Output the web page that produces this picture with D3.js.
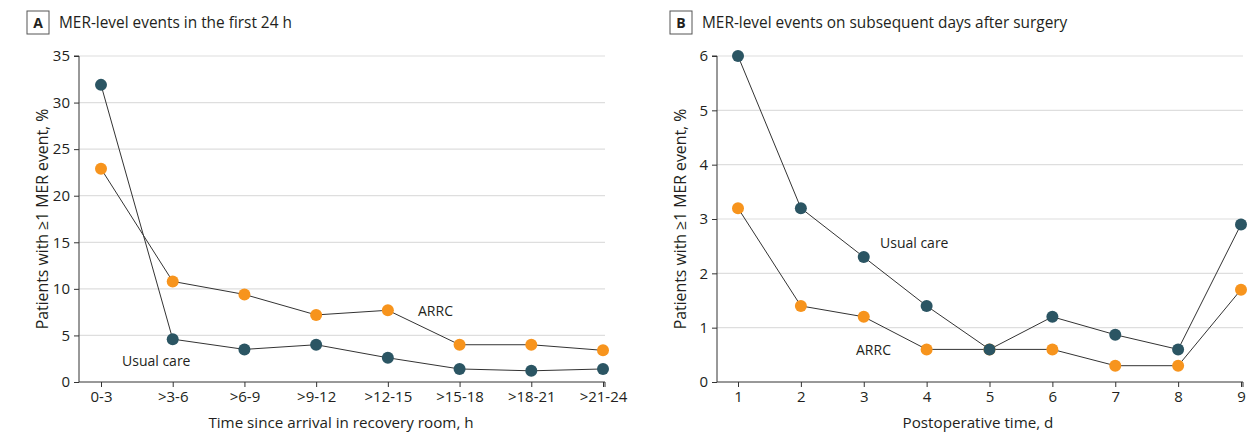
<!DOCTYPE html>
<html><head><meta charset="utf-8">
<script src="https://cdn.jsdelivr.net/npm/d3@7"></script>
<style>
body{margin:0;background:#fff;}
text{font-family:"Open Sans",sans-serif;fill:#231f20;}
</style></head>
<body>
<svg id="c" width="1254" height="433"></svg>
<script>
const catsA = ["0-3", ">3-6", ">6-9", ">9-12", ">12-15", ">15-18", ">18-21", ">21-24"];
const usualA = [31.9, 4.6, 3.5, 4.0, 2.6, 1.4, 1.2, 1.4];
const arrcA = [22.9, 10.8, 9.4, 7.2, 7.7, 4.0, 4.0, 3.4];
const ticksA = [0, 5, 10, 15, 20, 25, 30, 35];

const daysB = [1, 2, 3, 4, 5, 6, 7, 8, 9];
const usualB = [6.0, 3.2, 2.3, 1.4, 0.6, 1.2, 0.87, 0.6, 2.9];
const arrcB = [3.2, 1.4, 1.2, 0.6, 0.6, 0.6, 0.3, 0.3, 1.7];
const ticksB = [0, 1, 2, 3, 4, 5, 6];

const colUsual = "#2b5563", colArrc = "#f7941d";
const svg = d3.select("#c");

function panel(opt) {
  const g = svg.append("g");
  const y = d3.scaleLinear().domain([0, opt.ymax]).range([382, 56]);
  // gridlines
  g.selectAll(".grid").data(opt.yticks.filter(d => d > 0)).join("line")
    .attr("x1", opt.axisX).attr("x2", opt.gridEnd)
    .attr("y1", d => y(d)).attr("y2", d => y(d))
    .attr("stroke", "#dedede").attr("stroke-width", 1.2);
  // y axis
  const ya = g.append("g").attr("transform", `translate(${opt.axisX},0)`)
    .call(d3.axisLeft(y).tickValues(opt.yticks).tickSize(5).tickPadding(4).tickFormat(d3.format("d")));
  ya.select(".domain").attr("stroke", "#333").attr("d", `M-5,${y(opt.ymax)}H0V${y(0)}`);
  ya.selectAll(".tick line").attr("stroke", "#333");
  ya.selectAll("text").attr("font-size", 15).attr("font-family", "Open Sans").attr("fill", "#231f20");
  // x axis
  const xa = g.append("g").attr("transform", `translate(0,382)`)
    .call(opt.xAxis.tickSize(5).tickPadding(4));
  xa.select(".domain").attr("stroke", "#333").attr("d", `M${opt.axisX},0H${opt.gridEnd}V5`);
  xa.selectAll(".tick line").attr("stroke", "#333");
  xa.selectAll("text").attr("font-size", 15).attr("font-family", "Open Sans").attr("fill", "#231f20");
  // lines
  const line = d3.line().x((d, i) => opt.xv(i)).y(d => y(d));
  [opt.arrc, opt.usual].forEach(vals => {
    g.append("path").datum(vals).attr("d", line).attr("fill", "none")
      .attr("stroke", "#333").attr("stroke-width", 1);
  });
  [[opt.arrc, colArrc], [opt.usual, colUsual]].forEach(([vals, c]) => {
    g.selectAll(null).data(vals).join("circle")
      .attr("cx", (d, i) => opt.xv(i)).attr("cy", d => y(d)).attr("r", 6)
      .attr("fill", c);
  });
  // title
  g.append("rect").attr("x", opt.boxX).attr("y", 11).attr("width", 22).attr("height", 23)
    .attr("fill", "#fff").attr("stroke", "#555").attr("stroke-width", 1);
  g.append("text").attr("x", opt.boxX + 11).attr("y", 28).attr("text-anchor", "middle")
    .attr("font-size", 14).attr("font-weight", "bold").text(opt.letter);
  g.append("text").attr("x", opt.boxX + 32).attr("y", 28).attr("font-size", 15.4).text(opt.title);
  // axis titles
  g.append("text").attr("transform", `translate(${opt.axisX - 31},219) rotate(-90)`)
    .attr("text-anchor", "middle").attr("font-size", 15.8).text("Patients with \u22651 MER event, %");
  g.append("text").attr("x", opt.xTitleX).attr("y", 428).attr("text-anchor", "middle")
    .attr("font-size", 15.2).text(opt.xTitle);
  opt.labels.forEach(l => {
    g.append("text").attr("x", l[1]).attr("y", l[2]).attr("font-size", 14).text(l[0]);
  });
}

const xA = d3.scalePoint().domain(catsA).range([101, 603]);
panel({
  ymax: 35, yticks: ticksA, axisX: 79, gridEnd: 605,
  xAxis: d3.axisBottom(xA), xv: i => xA(catsA[i]),
  usual: usualA, arrc: arrcA, boxX: 27, letter: "A",
  title: "MER-level events in the first 24 h",
  xTitle: "Time since arrival in recovery room, h", xTitleX: 341,
  labels: [["Usual care", 122, 366], ["ARRC", 418, 316]]
});

const xB = d3.scaleLinear().domain([1, 9]).range([738, 1241]);
panel({
  ymax: 6, yticks: ticksB, axisX: 717, gridEnd: 1243,
  xAxis: d3.axisBottom(xB).tickValues(daysB).tickFormat(d3.format("d")), xv: i => xB(daysB[i]),
  usual: usualB, arrc: arrcB, boxX: 670, letter: "B",
  title: "MER-level events on subsequent days after surgery",
  xTitle: "Postoperative time, d", xTitleX: 978,
  labels: [["Usual care", 880, 248], ["ARRC", 856, 355]]
});
</script>
</body></html>
